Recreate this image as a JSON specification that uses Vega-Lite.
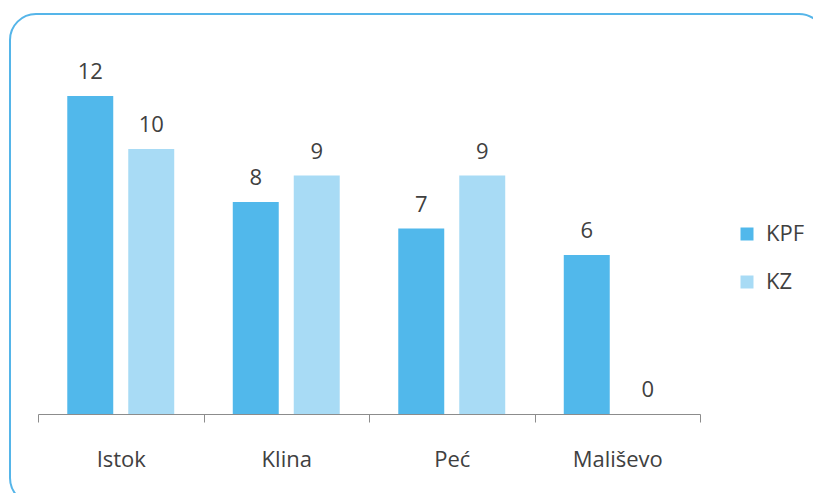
{
  "$schema": "https://vega.github.io/schema/vega-lite/v6.json",
  "autosize": {"type": "none"},
  "width": 815,
  "height": 490,
  "padding": {"left": 10, "top": 14, "right": 0, "bottom": 0},
  "background": "white",
  "config": {
    "font": "Open Sans",
    "view": {"stroke": "#55B5E9", "strokeWidth": 2, "cornerRadius": 26}
  },
  "data": {
    "values": [
      {"grad": "Istok", "serija": "KPF", "broj": 12},
      {"grad": "Istok", "serija": "KZ", "broj": 10},
      {"grad": "Klina", "serija": "KPF", "broj": 8},
      {"grad": "Klina", "serija": "KZ", "broj": 9},
      {"grad": "Peć", "serija": "KPF", "broj": 7},
      {"grad": "Peć", "serija": "KZ", "broj": 9},
      {"grad": "Mališevo", "serija": "KPF", "broj": 6},
      {"grad": "Mališevo", "serija": "KZ", "broj": 0}
    ]
  },
  "encoding": {
    "x": {
      "field": "grad",
      "type": "nominal",
      "sort": ["Istok", "Klina", "Peć", "Mališevo"],
      "scale": {"range": [28, 690], "paddingInner": 0, "paddingOuter": 0},
      "axis": {
        "title": null,
        "orient": "bottom",
        "offset": -90,
        "labelAngle": 0,
        "labelFontSize": 22,
        "labelColor": "#404040",
        "labelBaseline": "alphabetic",
        "labelPadding": 44,
        "tickBand": "extent",
        "tickSize": 8,
        "tickColor": "#8C8C8C",
        "domainColor": "#8C8C8C",
        "tickWidth": 1,
        "domainWidth": 1,
        "grid": false
      }
    },
    "xOffset": {
      "field": "serija",
      "type": "nominal",
      "sort": ["KPF", "KZ"],
      "scale": {"paddingInner": 0.246, "paddingOuter": 0.48}
    },
    "y": {
      "field": "broj",
      "type": "quantitative",
      "scale": {"domain": [0, 12], "range": [400, 82], "nice": false, "zero": true},
      "axis": null
    }
  },
  "layer": [
    {
      "mark": {"type": "bar"},
      "encoding": {
        "color": {
          "field": "serija",
          "type": "nominal",
          "sort": ["KPF", "KZ"],
          "scale": {"domain": ["KPF", "KZ"], "range": ["#51B8EB", "#A8DBF5"]},
          "legend": {
            "title": null,
            "orient": "none",
            "legendX": 726,
            "legendY": 209,
            "padding": 0,
            "symbolType": "square",
            "symbolSize": 169,
            "symbolStrokeWidth": 0,
            "labelFontSize": 22,
            "labelColor": "#404040",
            "labelOffset": 8,
            "rowPadding": 26
          }
        }
      }
    },
    {
      "mark": {"type": "text", "baseline": "alphabetic", "dy": -17, "fontSize": 22, "color": "#404040"},
      "encoding": {
        "text": {"field": "broj", "type": "quantitative"}
      }
    }
  ]
}
